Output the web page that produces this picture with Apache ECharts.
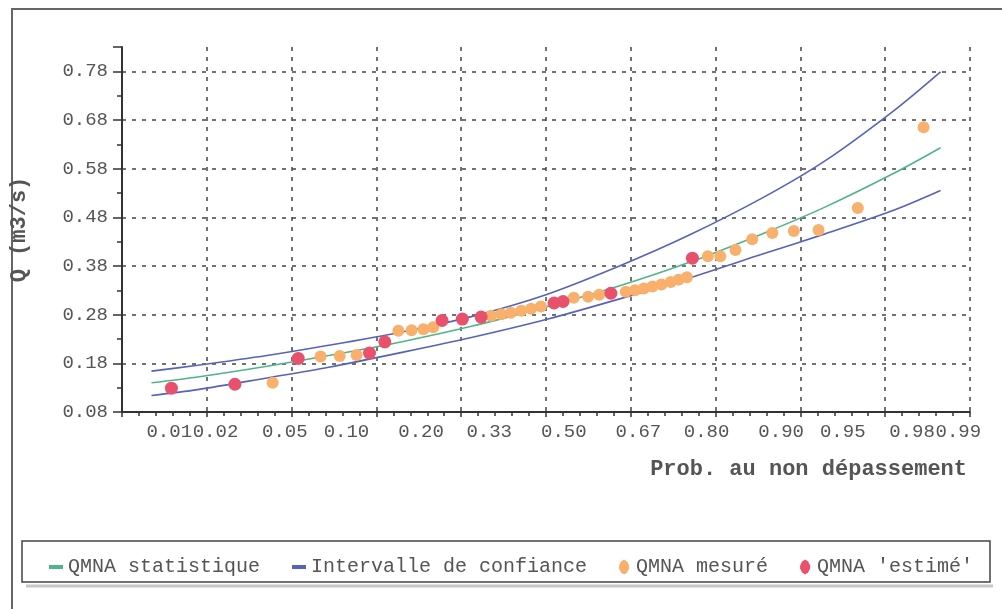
<!DOCTYPE html>
<html><head><meta charset="utf-8">
<script src="https://cdn.jsdelivr.net/npm/echarts@6/dist/echarts.min.js"></script>
<style>html,body{margin:0;padding:0;background:#fff}#c{width:1002px;height:609px}</style>
</head><body><div id="c"></div>
<script>
// Tick labels of the probability axis (non-exceedance probability)
const tickLabels = ['0.01','0.02','0.05','0.10','0.20','0.33','0.50','0.67','0.80','0.90','0.95','0.98','0.99'];
const tickProb = [0.01,0.02,0.05,0.10,0.20,0.33,0.50,0.67,0.80,0.90,0.95,0.98,0.99];
// Curves, read at the tick probabilities
const curveProb = [0.01,0.02,0.05,0.10,0.20,0.33,0.50,0.67,0.80,0.90,0.95,0.98,0.99];
const qmnaStat = [0.140,0.152,0.174,0.196,0.225,0.256,0.296,0.340,0.387,0.447,0.501,0.571,0.623];
const icUpper  = [0.164,0.176,0.196,0.217,0.245,0.276,0.321,0.381,0.443,0.521,0.596,0.700,0.779];
const icLower  = [0.114,0.126,0.150,0.172,0.203,0.233,0.270,0.313,0.355,0.405,0.446,0.495,0.535];
// Measured QMNA
const mesureProb = [0.0535,0.0919,0.112,0.132,0.192,0.214,0.235,0.253,0.373,0.396,0.418,0.442,0.465,0.488,0.565,0.598,0.623,0.681,0.700,0.718,0.735,0.752,0.769,0.783,0.797,0.830,0.848,0.868,0.888,0.909,0.928,0.946,0.967,0.987];
const mesureQ    = [0.140,0.194,0.195,0.197,0.247,0.248,0.250,0.254,0.278,0.281,0.284,0.288,0.292,0.297,0.315,0.317,0.321,0.327,0.330,0.334,0.338,0.342,0.347,0.352,0.357,0.400,0.400,0.413,0.435,0.448,0.452,0.454,0.499,0.665];
// Estimated QMNA
const estimeProb = [0.0136,0.0333,0.072,0.149,0.171,0.270,0.311,0.351,0.519,0.540,0.649,0.806];
const estimeQ    = [0.129,0.137,0.190,0.201,0.224,0.268,0.271,0.275,0.304,0.307,0.324,0.396];

// normal probability scale transform (inverse normal CDF, Acklam)
function probit(p){
  const a=[-3.969683028665376e+01,2.209460984245205e+02,-2.759285104469687e+02,1.383577518672690e+02,-3.066479806614716e+01,2.506628277459239e+00];
  const b=[-5.447609879822406e+01,1.615858368580409e+02,-1.556989798598866e+02,6.680131188771972e+01,-1.328068155288572e+01];
  const c=[-7.784894002430293e-03,-3.223964580411365e-01,-2.400758277161838e+00,-2.549732539343734e+00,4.374664141464968e+00,2.938163982698783e+00];
  const d=[7.784695709041462e-03,3.224671290700398e-01,2.445134137142996e+00,3.754408661907416e+00];
  const pl=0.02425, ph=1-pl; let q,r;
  if(p<pl){q=Math.sqrt(-2*Math.log(p));return (((((c[0]*q+c[1])*q+c[2])*q+c[3])*q+c[4])*q+c[5])/((((d[0]*q+d[1])*q+d[2])*q+d[3])*q+1);}
  if(p<=ph){q=p-0.5;r=q*q;return (((((a[0]*r+a[1])*r+a[2])*r+a[3])*r+a[4])*r+a[5])*q/(((((b[0]*r+b[1])*r+b[2])*r+b[3])*r+b[4])*r+1);}
  q=Math.sqrt(-2*Math.log(1-p));return -(((((c[0]*q+c[1])*q+c[2])*q+c[3])*q+c[4])*q+c[5])/((((d[0]*q+d[1])*q+d[2])*q+d[3])*q+1);
}
const tickZ = tickProb.map(probit);
const pair = (ps, qs) => ps.map((p,i)=>[probit(p), qs[i]]);

const FONT = 'Liberation Mono';
const TXT = '#555';
const GREEN = '#4fb488', BLUE = '#5663bd', ORANGE = '#f8b06c', RED = '#e8506c';
const gridLine = {show:true, lineStyle:{color:'#444', width:1.5, type:[4,6]}};

const chart = echarts.init(document.getElementById('c'), null, {renderer:'canvas'});
chart.setOption({
  animation:false,
  backgroundColor:'#fff',
  textStyle:{fontFamily:FONT},
  grid:{left:120, right:32, top:47, bottom:197, containLabel:false},
  graphic:[
    {type:'rect', z:-10, shape:{x:12,y:9,width:1100,height:700}, style:{fill:'none', stroke:'#666', lineWidth:2}},
    {type:'line', z:-10, shape:{x1:26,y1:586,x2:993,y2:586}, style:{stroke:'#c8c8c8', lineWidth:3}},
    {type:'rect', z:-9, shape:{x:22,y:541,width:968,height:41}, style:{fill:'#fff', stroke:'#444', lineWidth:1.5}}
  ],
  legend:{
    left:44, top:552, itemGap:32, itemWidth:14, itemHeight:15,
    textStyle:{fontFamily:FONT, fontSize:20, color:TXT},
    data:[
      {name:'QMNA statistique', icon:'path://M0,0h14v4h-14z'},
      {name:'Intervalle de confiance', icon:'path://M0,0h14v4h-14z'},
      {name:'QMNA mesuré', icon:'path://M5,0L8,2L10,6L10,9L8,13L5,15L2,13L0,9L0,6L2,2Z'},
      {name:"QMNA 'estimé'", icon:'path://M5,0L8,2L10,6L10,9L8,13L5,15L2,13L0,9L0,6L2,2Z'}
    ]
  },
  xAxis:{
    type:'value', min:-2.5, max:2.5, interval:0.5,
    name:'Prob. au non dépassement', nameLocation:'end', nameGap:-3,
    nameTextStyle:{fontFamily:FONT, fontSize:22, fontWeight:'bold', color:TXT, align:'right', verticalAlign:'top', padding:[46,0,0,0]},
    axisLine:{show:true, onZero:false, lineStyle:{color:'#333', width:2}},
    axisTick:{show:true, length:5, lineStyle:{color:'#333', width:1.5}},
    minorTick:{show:true, splitNumber:5, length:4, lineStyle:{color:'#333', width:1.5}},
    splitLine:gridLine,
    axisLabel:{
      customValues:tickZ, align:'left', margin:10, padding:[0,0,0,-5],
      fontFamily:FONT, fontSize:19, color:TXT,
      formatter:(v)=>{ for(let i=0;i<tickZ.length;i++){ if(Math.abs(tickZ[i]-v)<1e-6) return tickLabels[i]; } return ''; }
    }
  },
  yAxis:{
    type:'value', min:0.08, max:0.83, interval:0.1,
    name:'Q (m3/s)', nameLocation:'middle', nameRotate:90, nameGap:92,
    nameTextStyle:{fontFamily:FONT, fontSize:22, fontWeight:'bold', color:TXT},
    axisLine:{show:true, onZero:false, lineStyle:{color:'#333', width:2}},
    axisTick:{show:true, length:9, lineStyle:{color:'#333', width:1.5}},
    minorTick:{show:true, splitNumber:2, length:5, lineStyle:{color:'#333', width:1.5}},
    splitLine:Object.assign({showMaxLine:false, showMinLine:false}, gridLine),
    axisLabel:{margin:14, fontFamily:FONT, fontSize:19, color:TXT, showMaxLabel:false,
      formatter:(v)=>v.toFixed(2)}
  },
  series:[
    {name:'QMNA statistique', type:'line', data:pair(curveProb, qmnaStat), smooth:0.3, showSymbol:false,
      lineStyle:{color:GREEN, width:1.6}, itemStyle:{color:GREEN}, z:2},
    {name:'Intervalle de confiance', type:'line', data:pair(curveProb, icUpper), smooth:0.3, showSymbol:false,
      lineStyle:{color:BLUE, width:1.6}, itemStyle:{color:BLUE}, z:2},
    {name:'Intervalle de confiance', type:'line', data:pair(curveProb, icLower), smooth:0.3, showSymbol:false,
      lineStyle:{color:BLUE, width:1.6}, itemStyle:{color:BLUE}, z:2},
    {name:'QMNA mesuré', type:'scatter', data:pair(mesureProb, mesureQ), symbol:'circle', symbolSize:12,
      itemStyle:{color:ORANGE, opacity:1}, z:3},
    {name:"QMNA 'estimé'", type:'scatter', data:pair(estimeProb, estimeQ), symbol:'circle', symbolSize:13,
      itemStyle:{color:RED, opacity:1}, z:4}
  ]
});
</script></body></html>
